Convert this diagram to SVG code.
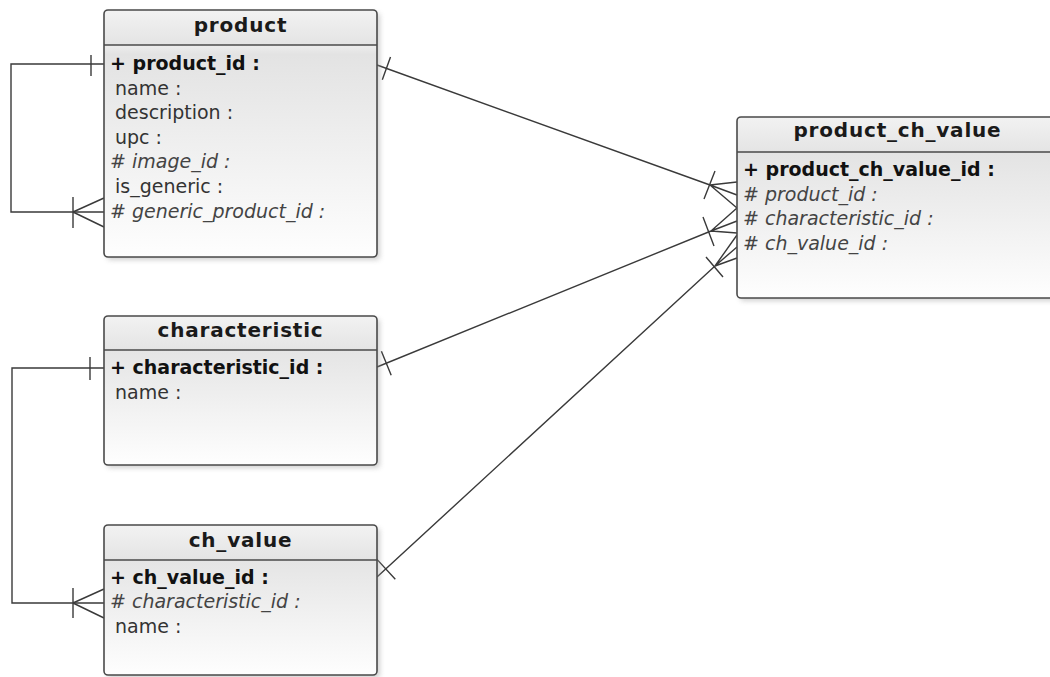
<svg xmlns="http://www.w3.org/2000/svg" width="1050" height="677" viewBox="0 0 1050 677">
<defs>
<linearGradient id="hdr" x1="0" y1="0" x2="0" y2="1">
<stop offset="0" stop-color="#f2f2f2"/>
<stop offset="1" stop-color="#e4e4e4"/>
</linearGradient>
<linearGradient id="body" x1="0" y1="0" x2="0" y2="1">
<stop offset="0" stop-color="#f1f1f1"/>
<stop offset="0.14" stop-color="#eeeeee"/>
<stop offset="0.18" stop-color="#e3e3e3"/>
<stop offset="1" stop-color="#fefefe"/>
</linearGradient>
<filter id="sh" x="-10%" y="-10%" width="120%" height="120%">
<feGaussianBlur stdDeviation="2.5"/>
</filter>
</defs>
<style>
.shadow{fill:#999;opacity:0.45;filter:url(#sh)}
.frame{fill:none;stroke:#4a4a4a;stroke-width:1.6}
.hdr{fill:url(#hdr)}
.body{fill:url(#body)}
.sep{stroke:#4a4a4a;stroke-width:1.6}
.title{font-family:"DejaVu Sans",sans-serif;font-size:20px;font-weight:bold;fill:#1a1a1a;letter-spacing:0.8px}
.pk{font-family:"DejaVu Sans",sans-serif;font-size:19px;font-weight:bold;fill:#111}
.at{font-family:"DejaVu Sans",sans-serif;font-size:19px;fill:#333}
.fk{font-family:"DejaVu Sans",sans-serif;font-size:19px;font-style:italic;fill:#444}
.ln{fill:none;stroke:#3a3a3a;stroke-width:1.4}
</style>

<g id="connectors">
<path class="ln" d="M104,64 H11 V212 H104"/>
<path class="ln" d="M91,55 V76"/>
<path class="ln" d="M73,197 V228 M73,212 L104,198 M73,212 L104,227"/>

<path class="ln" d="M104,368 H12 V603 H104"/>
<path class="ln" d="M90,357 V380"/>
<path class="ln" d="M73,588 V618 M73,603 L104,589 M73,603 L104,618"/>

<path class="ln" d="M377,65 L710,185 L737,195 M710,185 L737,182 M710,185 L737,208"/>
<path class="ln" d="M382.3,79.7 L390.5,57.1 M704,199 L715,171"/>

<path class="ln" d="M377,367 L711,231 L737,221 M711,231 L737,208 M711,231 L737,233"/>
<path class="ln" d="M381.4,351.2 L391.2,375.2 M703,217 L714,246"/>

<path class="ln" d="M377,577 L715,266 L737,247 M715,266 L737,235 M715,266 L737,258"/>
<path class="ln" d="M376.3,558.6 L395.3,579.2 M706,257 L723,277"/>
</g>

<g id="product">
<rect class="shadow" x="107" y="13" width="273" height="247" rx="4"/>
<rect class="body" x="104" y="10" width="273" height="247" rx="4"/>
<path class="hdr" d="M108,10 H373 A4,4 0 0 1 377,14 V45 H104 V14 A4,4 0 0 1 108,10 Z"/>
<line class="sep" x1="104" y1="45" x2="377" y2="45"/>
<rect class="frame" x="104" y="10" width="273" height="247" rx="4"/>
<text class="title" x="240.5" y="32" text-anchor="middle">product</text>
<text class="pk" x="110" y="70">+ product_id :</text>
<text class="at" x="115" y="95">name :</text>
<text class="at" x="115" y="119">description :</text>
<text class="at" x="115" y="144">upc :</text>
<text class="fk" x="110" y="168"># image_id :</text>
<text class="at" x="115" y="193">is_generic :</text>
<text class="fk" x="110" y="218"># generic_product_id :</text>
</g>

<g id="characteristic">
<rect class="shadow" x="107" y="319" width="273" height="149" rx="4"/>
<rect class="body" x="104" y="316" width="273" height="149" rx="4"/>
<path class="hdr" d="M108,316 H373 A4,4 0 0 1 377,320 V350 H104 V320 A4,4 0 0 1 108,316 Z"/>
<line class="sep" x1="104" y1="350" x2="377" y2="350"/>
<rect class="frame" x="104" y="316" width="273" height="149" rx="4"/>
<text class="title" x="240.5" y="337" text-anchor="middle">characteristic</text>
<text class="pk" x="110" y="374">+ characteristic_id :</text>
<text class="at" x="115" y="399">name :</text>
</g>

<g id="ch_value">
<rect class="shadow" x="107" y="528" width="273" height="150" rx="4"/>
<rect class="body" x="104" y="525" width="273" height="150" rx="4"/>
<path class="hdr" d="M108,525 H373 A4,4 0 0 1 377,529 V560 H104 V529 A4,4 0 0 1 108,525 Z"/>
<line class="sep" x1="104" y1="560" x2="377" y2="560"/>
<rect class="frame" x="104" y="525" width="273" height="150" rx="4"/>
<text class="title" x="240.5" y="547" text-anchor="middle">ch_value</text>
<text class="pk" x="110" y="584">+ ch_value_id :</text>
<text class="fk" x="110" y="608"># characteristic_id :</text>
<text class="at" x="115" y="633">name :</text>
</g>

<g id="product_ch_value">
<rect class="shadow" x="740" y="120" width="321" height="181" rx="4"/>
<rect class="body" x="737" y="117" width="321" height="181" rx="4"/>
<path class="hdr" d="M741,117 H1054 A4,4 0 0 1 1058,121 V152 H737 V121 A4,4 0 0 1 741,117 Z"/>
<line class="sep" x1="737" y1="152" x2="1058" y2="152"/>
<rect class="frame" x="737" y="117" width="321" height="181" rx="4"/>
<text class="title" x="897.5" y="137" text-anchor="middle">product_ch_value</text>
<text class="pk" x="743" y="176">+ product_ch_value_id :</text>
<text class="fk" x="743" y="201"># product_id :</text>
<text class="fk" x="743" y="225"># characteristic_id :</text>
<text class="fk" x="743" y="250"># ch_value_id :</text>
</g>
</svg>
